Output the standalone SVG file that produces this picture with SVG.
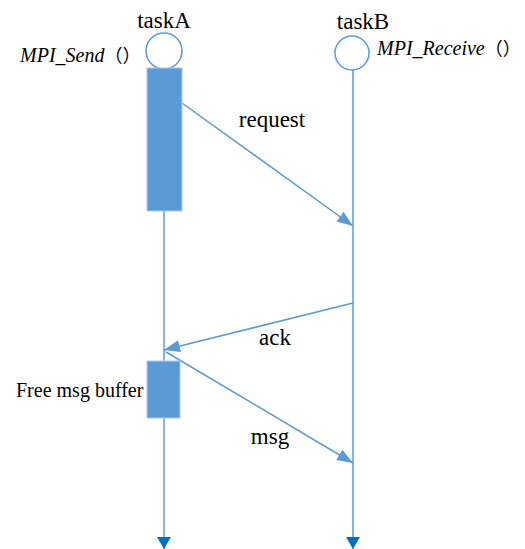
<svg xmlns="http://www.w3.org/2000/svg" width="525" height="549" viewBox="0 0 525 549">
<style>
.t{font-family:"Liberation Serif","Times New Roman",serif;fill:#000}
.it{font-style:italic}
.cjk{font-family:"Noto Sans CJK SC",sans-serif;font-style:normal}
.life{stroke:#5B9BD5;stroke-width:1.5;fill:none}
.msg{stroke:#5B9BD5;stroke-width:1.5;fill:none}
.head{fill:#fff;stroke:#5B9BD5;stroke-width:1.5}
.act{fill:#5B9BD5;stroke:#B4C7E7;stroke-width:1}
</style>
<defs>
<marker id="ah" viewBox="0 0 16 12" refX="16" refY="6" markerWidth="16" markerHeight="12" markerUnits="userSpaceOnUse" orient="auto">
<path d="M0,0 L16,6 L0,12 Z" fill="#5B9BD5"/>
</marker>
<marker id="endh" viewBox="0 0 12 14" refX="12" refY="7" markerWidth="12" markerHeight="14" markerUnits="userSpaceOnUse" orient="auto">
<path d="M0,0 L12,7 L0,14 Z" fill="#0070C0"/>
</marker>
</defs>
<g id="taskA">
<text class="t" x="164" y="28" font-size="23" text-anchor="middle">taskA</text>
<circle class="head" cx="164" cy="51" r="18"/>
<text class="t it" x="20" y="62" font-size="20">MPI_Send<tspan class="cjk" font-size="18">（）</tspan></text>
</g>
<g id="taskB">
<text class="t" x="363" y="29" font-size="23" text-anchor="middle">taskB</text>
<circle class="head" cx="352" cy="53" r="17"/>
<text class="t it" x="377" y="55" font-size="20">MPI_Receive<tspan class="cjk" font-size="18">（）</tspan></text>
</g>
<g id="connectors">
<line class="life" x1="164" y1="69" x2="164" y2="549" marker-end="url(#endh)"/>
<line class="life" x1="353" y1="70" x2="353" y2="549" marker-end="url(#endh)"/>
<line class="msg" x1="182" y1="103" x2="353" y2="226" marker-end="url(#ah)"/>
<line class="msg" x1="353" y1="303" x2="164" y2="350" marker-end="url(#ah)"/>
<line class="msg" x1="166" y1="352" x2="353" y2="463" marker-end="url(#ah)"/>
</g>
<g id="activationA1">
<rect class="act" x="147" y="68" width="35" height="143"/>
</g>
<g id="activationA2">
<rect class="act" x="147" y="361" width="33" height="57"/>
<text class="t" x="16" y="397" font-size="20">Free msg buffer</text>
</g>
<g id="labels">
<text class="t" x="272" y="127" font-size="23" text-anchor="middle">request</text>
<text class="t" x="275" y="345" font-size="23" text-anchor="middle">ack</text>
<text class="t" x="270" y="444" font-size="23" text-anchor="middle">msg</text>
</g>
</svg>
